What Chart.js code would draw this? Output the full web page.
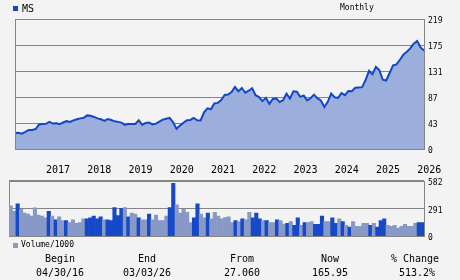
<!DOCTYPE html>
<html>
<head>
<meta charset="utf-8">
<title>MS monthly</title>
<script src="https://cdn.jsdelivr.net/npm/chart.js@4.4.1/dist/chart.umd.min.js"></script>
<style>
  html, body { margin: 0; padding: 0; background: #f3f3f3; }
  #wrap {
    position: relative; width: 460px; height: 280px; overflow: hidden;
    font-family: "DejaVu Sans Mono", monospace; color: #000;
  }
  canvas { position: absolute; left: 0; }
  #priceCanvas { top: 0; }
  #volumeCanvas { top: 172px; }
  .txt { position: absolute; white-space: nowrap; line-height: 1; }
  .big { font-size: 10px; }
  .small { font-size: 8px; }
  .ctr { width: 80px; text-align: center; }
  .swatch { position: absolute; width: 5px; height: 5px; background: #1447c6; }
  .swatch.light { background: #8899c6; }
</style>
</head>
<body>
<div id="wrap">
  <canvas id="priceCanvas" width="460" height="176"></canvas>
  <canvas id="volumeCanvas" width="460" height="73"></canvas>

  <div class="swatch" style="left:13px; top:6px;"></div>
  <div class="txt big" style="left:22px; top:4px;">MS</div>
  <div class="txt small" style="left:340px; top:4px;">Monthly</div>

  <div class="swatch light" style="left:13px; top:243px;"></div>
  <div class="txt small" style="left:21px; top:241px;">Volume/1000</div>

  <div class="txt big ctr" style="left:20px; top:254px;">Begin</div>
  <div class="txt big ctr" style="left:20px; top:268px;">04/30/16</div>
  <div class="txt big ctr" style="left:107px; top:254px;">End</div>
  <div class="txt big ctr" style="left:107px; top:268px;">03/03/26</div>
  <div class="txt big ctr" style="left:202px; top:254px;">From</div>
  <div class="txt big ctr" style="left:202px; top:268px;">27.060</div>
  <div class="txt big ctr" style="left:290px; top:254px;">Now</div>
  <div class="txt big ctr" style="left:290px; top:268px;">165.95</div>
  <div class="txt big ctr" style="left:375px; top:254px;">% Change</div>
  <div class="txt big ctr" style="left:377px; top:268px;">513.2%</div>
</div>

<script>
// monthly closes, Apr 2016 .. Mar 2026
const closes = [
  27.06, 27.4, 25.9, 28.7, 32.0, 32.1, 33.6, 41.4, 42.3,
  42.5, 45.6, 42.8, 43.4, 41.8, 44.6, 46.9, 45.6, 48.2, 50.0, 51.6, 52.5,
  56.6, 56.0, 54.0, 51.6, 50.1, 47.4, 50.6, 48.8, 46.6, 45.7, 44.4, 40.5,
  42.3, 42.1, 42.2, 48.3, 40.7, 43.8, 44.6, 41.5, 42.7, 46.0, 49.5, 51.1,
  52.3, 45.0, 34.0, 39.4, 44.2, 48.3, 48.9, 52.3, 48.3, 48.2, 61.8, 68.5,
  67.0, 76.8, 77.7, 82.6, 91.0, 91.7, 96.0, 104.4, 97.3, 102.8, 94.8, 98.2,
  102.5, 90.6, 87.4, 80.6, 86.2, 76.1, 84.3, 85.2, 79.0, 82.2, 93.1, 85.0,
  97.3, 96.5, 87.8, 90.0, 81.8, 85.4, 91.6, 85.2, 81.7, 70.8, 79.4, 93.3,
  87.2, 86.0, 94.2, 90.8, 97.8, 97.2, 103.2, 103.8, 104.2, 116.2, 131.6, 125.7,
  138.4, 133.1, 116.7, 115.4, 128.0, 140.9, 142.5, 150.4, 159.0, 164.0, 169.5, 177.5,
  182.0, 171.0, 165.95,
];

// monthly volume in thousands, same months
const volumes = [
  320, 265, 340, 281, 242, 232, 212, 298, 222,
  212, 193, 262, 212, 173, 203, 164, 164, 144, 173, 134, 144,
  183, 183, 193, 212, 183, 203, 173, 173, 164, 300, 216, 294,
  300, 203, 242, 232, 193, 173, 173, 232, 173, 222, 164, 164,
  212, 300, 556, 330, 242, 281, 252, 144, 193, 340, 232, 193,
  242, 183, 252, 212, 183, 196, 203, 144, 164, 154, 183, 173,
  252, 193, 242, 183, 164, 164, 144, 144, 173, 164, 128, 134,
  154, 115, 193, 115, 144, 144, 154, 124, 124, 212, 154, 154,
  193, 134, 183, 154, 115, 95, 154, 105, 105, 134, 134, 115,
  134, 95, 164, 183, 115, 105, 115, 85, 105, 124, 105, 105,
  134, 144, 144,
];

const yearTickLabels = ["2017", "2018", "2019", "2020", "2021", "2022", "2023", "2024", "2025", "2026"];
const priceTicks = [0, 43.8, 87.6, 131.4, 175.2, 219];
const priceTickLabels = ["0", "43", "87", "131", "175", "219"];
const volumeTicks = [0, 291, 582];
const volumeTickLabels = ["0", "291", "582"];

const START_YEAR = 2016;
const START_MONTH = 4;

const LINE_BLUE = "#1447c6";
const AREA_FILL = "#9cafdc";
const BAR_LIGHT = "#8899c6";
const BAR_DARK = "#1649c8";
const GRID_GREY = "#858585";

function buildMonthLabels(count) {
  const out = [];
  for (let i = 0; i < count; i++) {
    const m = START_MONTH - 1 + i;
    const y = START_YEAR + Math.floor(m / 12);
    const mm = String((m % 12) + 1).padStart(2, "0");
    out.push(`${y}-${mm}`);
  }
  return out;
}

const months = buildMonthLabels(closes.length);

// down months get the dark bar
const barColors = closes.map((c, i) => (i > 0 && c < closes[i - 1] ? BAR_DARK : BAR_LIGHT));

function plotFrame(id, onTop) {
  const draw = (chart) => {
    const { ctx, chartArea } = chart;
    const l = Math.round(chartArea.left) + 0.5;
    const t = Math.round(chartArea.top) + 0.5;
    const r = Math.round(chartArea.right) + 0.5;
    const b = Math.round(chartArea.bottom) + 0.5;
    ctx.save();
    ctx.strokeStyle = GRID_GREY;
    ctx.lineWidth = 1;
    ctx.strokeRect(l, t, r - l, b - t);
    ctx.restore();
  };
  return onTop ? { id, afterDatasetsDraw: draw } : { id, beforeDatasetsDraw: draw };
}

const monoFont = (size) => ({ family: "DejaVu Sans Mono", size });

new Chart(document.getElementById("priceCanvas"), {
  type: "line",
  data: {
    labels: months,
    datasets: [
      {
        data: closes,
        borderColor: LINE_BLUE,
        backgroundColor: AREA_FILL,
        borderWidth: 2,
        fill: "origin",
        pointRadius: 0,
        tension: 0,
      },
    ],
  },
  plugins: [plotFrame("priceFrame", true)],
  options: {
    responsive: false,
    animation: false,
    devicePixelRatio: 1,
    layout: { padding: { left: 9, top: 19, right: 0, bottom: 0 } },
    plugins: { legend: { display: false }, tooltip: { enabled: false } },
    scales: {
      x: {
        type: "category",
        offset: false,
        grid: { display: false, drawTicks: false },
        border: { display: false },
        ticks: {
          autoSkip: false,
          maxRotation: 0,
          minRotation: 0,
          align: "start",
          padding: 15,
          color: "#000",
          font: monoFont(10),
          callback(value) {
            const key = this.getLabelForValue(value);
            const [y, m] = key.split("-");
            return m === "01" && yearTickLabels.includes(y) ? y : "";
          },
        },
        afterFit(scale) {
          scale.height = 27;
        },
      },
      y: {
        position: "right",
        min: 0,
        max: 219,
        grid: { color: GRID_GREY, drawTicks: false },
        border: { display: false },
        ticks: {
          padding: 4,
          labelOffset: 2,
          color: "#000",
          font: monoFont(8),
          callback(value, index) {
            return priceTickLabels[index];
          },
        },
        afterBuildTicks(scale) {
          scale.ticks = priceTicks.map((v) => ({ value: v }));
        },
        afterFit(scale) {
          scale.width = 36;
        },
      },
    },
  },
});

new Chart(document.getElementById("volumeCanvas"), {
  type: "bar",
  data: {
    labels: months,
    datasets: [
      {
        data: volumes,
        backgroundColor: barColors,
        borderWidth: 0,
        barPercentage: 1,
        categoryPercentage: 1,
      },
    ],
  },
  plugins: [plotFrame("volumeFrame", false)],
  options: {
    responsive: false,
    animation: false,
    devicePixelRatio: 1,
    layout: { padding: { left: 9, top: 7, right: 0, bottom: 6 } },
    plugins: { legend: { display: false }, tooltip: { enabled: false } },
    scales: {
      x: { type: "category", offset: true, display: false },
      y: {
        position: "right",
        min: 0,
        max: 582,
        grid: { color: GRID_GREY, drawTicks: false },
        border: { display: false },
        ticks: {
          padding: 4,
          labelOffset: 2,
          color: "#000",
          font: monoFont(8),
          callback(value, index) {
            return volumeTickLabels[index];
          },
        },
        afterBuildTicks(scale) {
          scale.ticks = volumeTicks.map((v) => ({ value: v }));
        },
        afterFit(scale) {
          scale.width = 36;
        },
      },
    },
  },
});
</script>
</body>
</html>
